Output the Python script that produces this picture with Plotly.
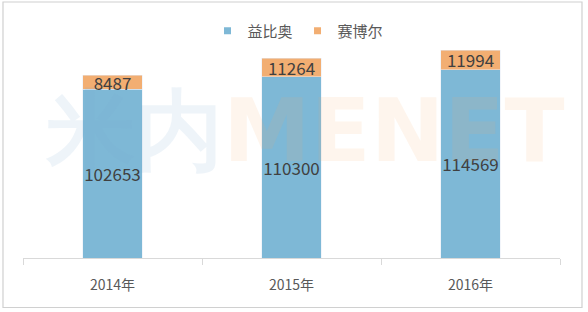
import plotly.graph_objects as go

categories = ["2014年", "2015年", "2016年"]
yibiao = [102653, 110300, 114569]
saiboer = [8487, 11264, 11994]
series_names = ["益比奥", "赛博尔"]

blue = "#7EB8D6"
orange = "#F2AE72"
font_family = "Noto Sans CJK SC, Microsoft YaHei, sans-serif"

fig = go.Figure()
for vals, name, col in [(yibiao, series_names[0], blue), (saiboer, series_names[1], orange)]:
    fig.add_trace(go.Bar(
        x=categories, y=vals, name=name, marker_color=col, showlegend=False,
        text=[str(v) for v in vals], textposition="inside", insidetextanchor="middle",
        textangle=0, constraintext="none", cliponaxis=False,
        textfont=dict(size=17, color="#404040", family=font_family),
    ))
# legend entries with small square markers
for name, col in [(series_names[0], blue), (series_names[1], orange)]:
    fig.add_trace(go.Scatter(
        x=[None], y=[None], mode="markers", name=name,
        marker=dict(symbol="square", size=7, color=col),
    ))

L, R, T, B = 23, 28, 28, 54
W, H = 588, 312
pw, ph = W - L - R, H - T - B

def px_x(x):
    return (x - L) / pw

def px_y(y):
    return (H - B - y) / ph

fig.update_layout(
    barmode="stack",
    bargap=0.665,
    width=W, height=H,
    margin=dict(l=L, r=R, t=T, b=B),
    paper_bgcolor="white", plot_bgcolor="white",
    font=dict(family=font_family, color="#595959"),
    uniformtext=dict(minsize=17, mode="show"),
    legend=dict(orientation="h", x=px_x(298), xanchor="center", y=px_y(31), yanchor="middle",
                font=dict(size=15, color="#595959"), itemwidth=30, itemsizing="trace",
                traceorder="normal", tracegroupgap=0),
    xaxis=dict(showline=True, linecolor="#D9D9D9", linewidth=1, ticks="outside",
               tickcolor="#D9D9D9", ticklen=6, tickson="boundaries",
               ticklabelstandoff=14,
               tickfont=dict(size=14, color="#595959"), showgrid=False),
    yaxis=dict(range=[0, 140000], visible=False, showgrid=False),
    shapes=[dict(type="rect", xref="paper", yref="paper",
                 x0=px_x(3), x1=px_x(582), y0=px_y(307.5), y1=px_y(2),
                 line=dict(color="#D0D0D0", width=1.2))],
    annotations=[dict(
        xref="paper", yref="paper", x=px_x(304), y=px_y(130), xanchor="center", yanchor="middle",
        text="<b><span style='color:rgba(120,170,210,0.13)'>米内</span><span style='color:rgba(245,170,110,0.12)'>MENET</span></b>",
        showarrow=False, font=dict(size=88, family="DejaVu Sans, sans-serif"),
    )],
)

fig.write_html("out.html")
